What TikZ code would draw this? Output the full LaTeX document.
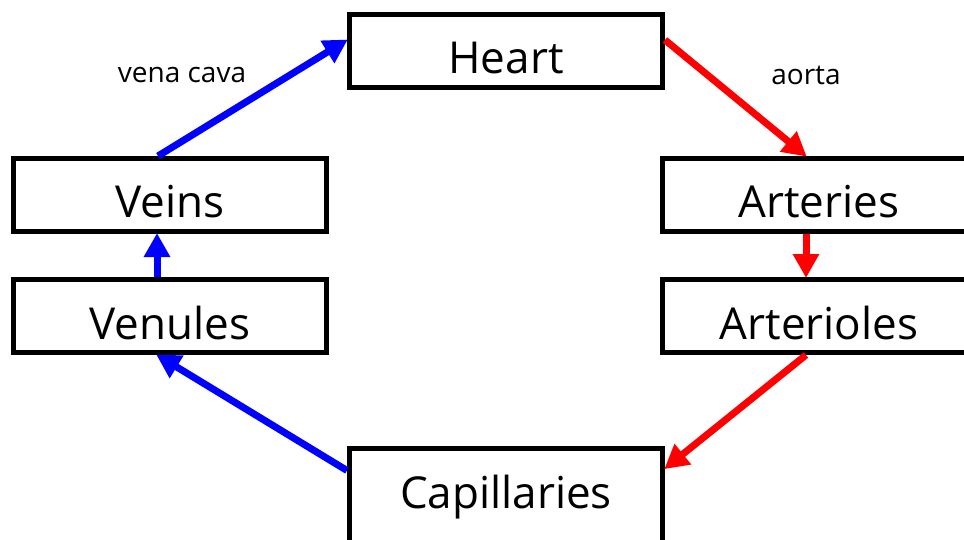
\documentclass[tikz,border=0pt]{standalone}
\usepackage{fontspec}
\setmainfont{Open Sans}
\usetikzlibrary{arrows.meta,calc}
\begin{document}
\begin{tikzpicture}[x=1pt,y=-1pt,
  stage/.style={draw=black,line width=5pt,fill=white,minimum width=313pt,minimum height=73pt,
    inner sep=0pt,font=\fontsize{44}{48}\selectfont,text depth=0pt,anchor=center},
  vessellabel/.style={font=\fontsize{28}{32}\selectfont},
  flow/.style={line width=7pt,-{Triangle[length=24pt,width=25pt]},shorten >=-1pt},
  oxy/.style={flow,draw={rgb,255:red,255;green,0;blue,0}},
  deoxy/.style={flow,draw={rgb,255:red,0;green,0;blue,255}}]
\useasboundingbox (0,0) rectangle (964,539);
% boxes of the circulation loop
\node[stage] (heart) at (506,51) {\raisebox{-13pt}{Heart}};
\node[stage] (veins) at (170,195) {\raisebox{-13pt}{Veins}};
\node[stage] (venules) at (170,316) {\raisebox{-13pt}{Venules}};
\node[stage] (arteries) at (819,195) {\raisebox{-13pt}{Arteries}};
\node[stage] (arterioles) at (819,316) {\raisebox{-13pt}{Arterioles}};
\node[stage,minimum height=140pt] (capillaries) at (506,518) {};
\node[font=\fontsize{44}{48}\selectfont] (captext) at (506,497) {Capillaries};
% vessel labels
\node[vessellabel] (vc) at (182,75) {vena cava};
\node[vessellabel] (ao) at (806,75) {aorta};
% oxygenated side
\draw[oxy] ([yshift=11pt]heart.east) -- ([xshift=-13pt]arteries.north);
\draw[oxy] ([xshift=-13pt]arteries.south) -- ([xshift=-13pt]arterioles.north);
\draw[oxy] ([xshift=-13pt]arterioles.south) -- ($(capillaries.north east)+(0,23)$);
% deoxygenated side
\draw[deoxy] ($(capillaries.north west)+(0,25)$) -- ([xshift=-13pt]venules.south);
\draw[deoxy] ([xshift=-13pt]venules.north) -- ([xshift=-13pt]veins.south);
\draw[deoxy] ([xshift=-12pt]veins.north) -- ([yshift=11pt]heart.west);
\end{tikzpicture}
\end{document}
